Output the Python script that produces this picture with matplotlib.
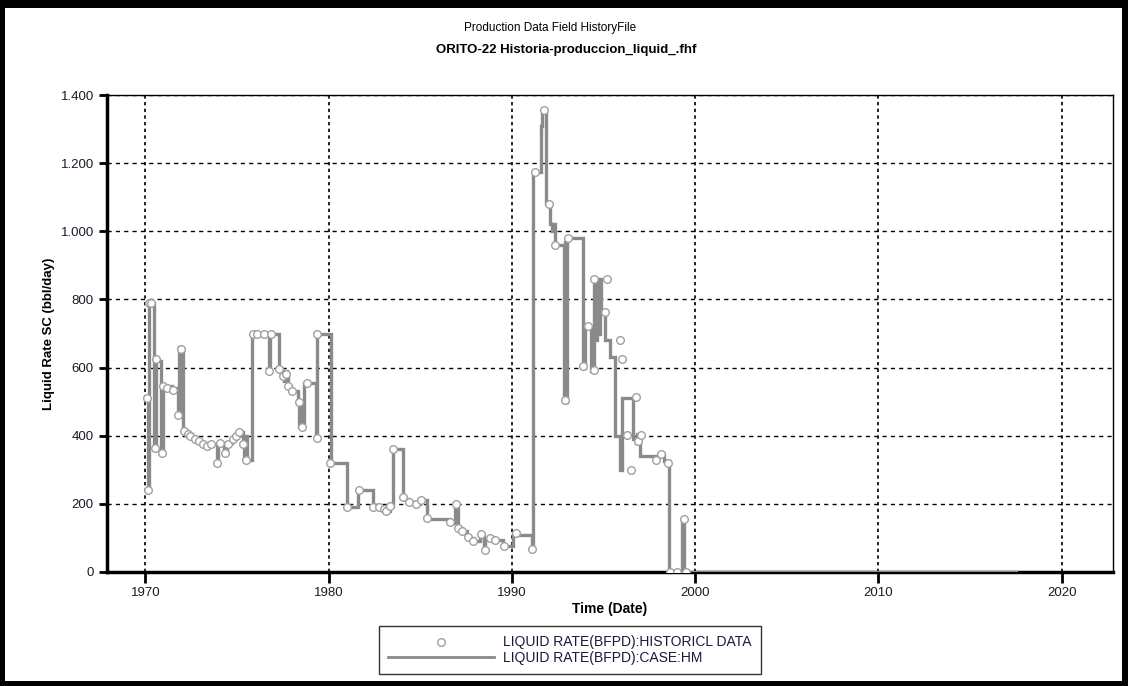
import matplotlib
matplotlib.use("Agg")
import matplotlib.pyplot as plt
from matplotlib.lines import Line2D
from matplotlib.patches import Rectangle

# ---- data (years as decimal, liquid rate bbl/day) ----
case_t = [1970.08, 1970.14, 1970.20, 1970.45, 1970.55, 1970.85, 1970.93, 1971.45,
          1971.80, 1971.85, 1971.88, 1971.92, 1971.96, 1972.00, 1972.05, 1972.30,
          1972.55, 1972.80, 1973.00, 1973.30, 1973.55, 1973.88, 1973.98, 1974.30,
          1974.45, 1974.70, 1974.90, 1975.10, 1975.30, 1975.40, 1975.48, 1975.55,
          1975.82, 1976.72, 1976.82, 1977.30, 1977.45, 1977.55, 1977.62, 1977.70,
          1977.80, 1977.95, 1978.30, 1978.40, 1978.48, 1978.56, 1978.65, 1978.80,
          1979.30, 1979.36, 1980.10, 1981.00, 1981.62, 1982.40, 1983.00, 1983.10,
          1983.35, 1983.50, 1984.05, 1984.35, 1984.75, 1985.00, 1985.35, 1986.60,
          1986.90, 1987.05, 1987.30, 1987.55, 1987.85, 1988.25, 1988.45, 1988.55,
          1988.80, 1989.10, 1989.50, 1990.05, 1991.10, 1991.15, 1991.58, 1991.65,
          1991.86, 1992.10, 1992.18, 1992.25, 1992.35, 1992.85, 1992.90, 1992.95,
          1993.00, 1993.88, 1994.00, 1994.30, 1994.35, 1994.43, 1994.48, 1994.55,
          1994.62, 1994.70, 1994.78, 1994.85, 1995.05, 1995.35, 1995.60, 1995.90,
          1995.98, 1996.60, 1996.75, 1996.85, 1997.00, 1998.10, 1998.30, 1998.58,
          1999.30, 1999.33, 1999.36, 1999.40, 2017.50]
case_v = [510, 240, 790, 365, 620, 350, 545, 540,
          460, 660, 470, 650, 480, 655, 415, 405,
          395, 385, 380, 370, 375, 320, 380, 350,
          380, 390, 400, 410, 370, 330, 400, 330,
          700, 590, 700, 595, 580, 560, 590, 570,
          545, 530, 500, 425, 500, 425, 555, 555,
          390, 700, 320, 190, 240, 190, 185, 178,
          195, 360, 215, 205, 200, 210, 155, 145,
          195, 130, 120, 100, 90, 110, 65, 95,
          100, 95, 75, 110, 65, 1175, 1310, 1350,
          1080, 1020, 1000, 1020, 960, 500, 970, 500,
          980, 600, 720, 590, 720, 590, 860, 680,
          860, 700, 860, 760, 680, 630, 400, 300,
          510, 390, 380, 405, 340, 345, 325, 0,
          150, 0, 150, 0, 0]

hist_t = [1970.08, 1970.14, 1970.20, 1970.28, 1970.50, 1970.58, 1970.90, 1970.96,
          1971.20, 1971.50, 1971.80, 1971.95, 1972.08, 1972.30, 1972.45, 1972.70,
          1972.90, 1973.15, 1973.35, 1973.60, 1973.92, 1974.05, 1974.35, 1974.50,
          1974.75, 1974.95, 1975.10, 1975.30, 1975.50, 1975.85, 1976.10, 1976.45,
          1976.72, 1976.85, 1977.30, 1977.50, 1977.65, 1977.80, 1978.00, 1978.36,
          1978.56, 1978.80, 1979.34, 1979.36, 1980.05, 1981.00, 1981.65, 1982.40,
          1982.75, 1983.00, 1983.10, 1983.35, 1983.50, 1984.05, 1984.40, 1984.75,
          1985.05, 1985.38, 1986.60, 1986.92, 1987.05, 1987.30, 1987.60, 1987.85,
          1988.30, 1988.52, 1988.80, 1989.10, 1989.56, 1990.20, 1991.10, 1991.25,
          1991.75, 1992.00, 1992.35, 1992.90, 1993.05, 1993.88, 1994.15, 1994.45,
          1994.50, 1995.08, 1995.19, 1995.90, 1996.00, 1996.30, 1996.50, 1996.75,
          1996.88, 1997.05, 1997.87, 1998.14, 1998.52, 1998.60, 1999.00, 1999.40,
          1999.50]
hist_v = [510, 240, 790, 790, 365, 625, 350, 545,
          540, 535, 460, 655, 415, 405, 400, 390,
          385, 375, 370, 375, 320, 380, 350, 375,
          390, 400, 410, 375, 330, 700, 700, 700,
          590, 700, 595, 575, 580, 545, 530, 500,
          425, 555, 393, 700, 320, 190, 240, 190,
          190, 185, 178, 195, 360, 220, 205, 200,
          212, 158, 147, 200, 128, 120, 103, 92,
          111, 65, 100, 95, 76, 114, 67, 1175,
          1355, 1080, 960, 505, 980, 605, 722, 593,
          860, 763, 860, 681, 625, 402, 300, 514,
          385, 402, 330, 345, 320, 0, 0, 155,
          0]

y_ticks = [0, 200, 400, 600, 800, 1000, 1200, 1400]
y_labels = ["0", "200", "400", "600", "800", "1.000", "1.200", "1.400"]
x_ticks = [1970, 1980, 1990, 2000, 2010, 2020]

narrow = ["Liberation Sans Narrow", "Liberation Sans", "DejaVu Sans"]
plt.rcParams["font.family"] = ["Liberation Sans", "DejaVu Sans"]

fig = plt.figure(figsize=(11.28, 6.86), dpi=100)
W, H = 1128, 686
ax = fig.add_axes([107 / W, 1 - 572 / H, (1113 - 107) / W, (572 - 95) / H])

ax.plot(case_t, case_v, drawstyle="steps-post", color="#8a8a8a", lw=2.4,
        zorder=3, solid_joinstyle="miter")
ax.plot(hist_t, hist_v, ls="none", marker="o", ms=5.5, mfc="white",
        mec="#a0a0a0", mew=1.0, zorder=4)

ax.set_xlim(1967.9, 2022.8)
ax.set_ylim(0, 1400)
ax.set_yticks(y_ticks)
ax.set_yticklabels(y_labels)
ax.set_xticks(x_ticks)
ax.tick_params(axis="both", labelsize=9.5, colors="black", length=6, width=2,
               direction="out")
ax.tick_params(axis="x", length=8, pad=3)
for lab in ax.get_xticklabels() + ax.get_yticklabels():
    lab.set_color("#1a1a2a")

ax.grid(True, axis="y", color="black", lw=1.0, ls=(0, (3, 3)))
ax.grid(True, axis="x", color="black", lw=1.2, ls=(0, (2, 2)))
ax.set_axisbelow(True)

ax.spines["left"].set_linewidth(2.5)
ax.spines["bottom"].set_linewidth(2.5)
ax.spines["top"].set_linewidth(1.0)
ax.spines["right"].set_linewidth(1.0)

ax.set_ylabel("Liquid Rate SC (bbl/day)", fontsize=9.5, fontweight="bold",
              family=narrow, labelpad=4)
ax.set_xlabel("Time (Date)", fontsize=10, fontweight="bold", labelpad=2)

fig.text(550 / W, 1 - 28 / H, "Production Data Field HistoryFile", ha="center",
         va="center", fontsize=8.5, family=narrow)
fig.text(566 / W, 1 - 50 / H, "ORITO-22 Historia-produccion_liquid_.fhf",
         ha="center", va="center", fontsize=9.5, fontweight="bold", family=narrow)

handles = [
    Line2D([], [], ls="none", marker="o", ms=5.5, mfc="white", mec="#a0a0a0",
           mew=1.0),
    Line2D([], [], color="#8a8a8a", lw=2.0),
]
labels = ["LIQUID RATE(BFPD):HISTORICL DATA", "LIQUID RATE(BFPD):CASE:HM"]
leg = fig.legend(handles, labels, loc="center", bbox_to_anchor=(570 / W, 1 - 650 / H),
                 fontsize=10, handlelength=7.6, handletextpad=0.7, borderpad=0.65,
                 borderaxespad=0, labelspacing=0.08, fancybox=False, frameon=True)
leg.get_frame().set_edgecolor("black")
leg.get_frame().set_linewidth(1.0)
for t in leg.get_texts():
    t.set_color("#1a1a3a")

# black outer frame
for (x0, y0, w, h) in [(0, 1 - 8 / H, 1, 8 / H), (0, 0, 1, 5 / H),
                       (0, 0, 5 / W, 1), (1 - 6 / W, 0, 6 / W, 1)]:
    fig.add_artist(Rectangle((x0, y0), w, h, transform=fig.transFigure,
                             color="black", lw=0))

fig.savefig("out.png", dpi=100)
